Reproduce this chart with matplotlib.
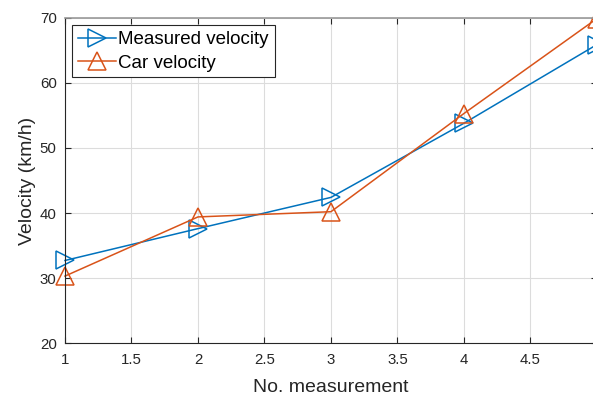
import matplotlib
matplotlib.use("Agg")
import matplotlib.pyplot as plt

plt.rcParams["font.family"] = ["Liberation Sans", "DejaVu Sans"]

# =========================
# DATA
# =========================

measurement = [1, 2, 3, 4, 5]
measured_velocity = [32.7, 37.6, 42.4, 53.8, 65.9]
car_velocity = [30.3, 39.4, 40.2, 55.3, 69.9]

x_ticks = [1, 1.5, 2, 2.5, 3, 3.5, 4, 4.5]
y_ticks = [20, 30, 40, 50, 60, 70]

BLUE = "#0072BD"
ORANGE = "#D95319"

fig = plt.figure(figsize=(5.93, 3.98), dpi=100)
ax = fig.add_axes([0.1096, 0.138, 0.897, 0.817])

ax.plot(
    measurement,
    measured_velocity,
    color=BLUE,
    marker=">",
    markersize=12.5,
    markerfacecolor="none",
    markeredgewidth=1.1,
    linewidth=1.1,
    label="Measured velocity",
    clip_on=False,
)

ax.plot(
    measurement,
    car_velocity,
    color=ORANGE,
    marker="^",
    markersize=12.5,
    markerfacecolor="none",
    markeredgewidth=1.1,
    linewidth=1.1,
    label="Car velocity",
    clip_on=False,
)

ax.set_xlim(1, 5)
ax.set_ylim(20, 70)
ax.set_xticks(x_ticks)
ax.set_xticklabels([f"{t:g}" for t in x_ticks])
ax.set_yticks(y_ticks)

ax.grid(True, color="#dcdcdc", linewidth=0.8)
ax.set_axisbelow(True)

ax.tick_params(
    direction="in",
    length=4,
    width=0.8,
    labelsize=10.8,
    colors="#262626",
    top=True,
    right=True,
)
ax.tick_params(axis="x", pad=7)
ax.tick_params(axis="y", pad=6)

for side in ["left", "bottom"]:
    ax.spines[side].set_color("#262626")
    ax.spines[side].set_linewidth(0.8)

for side in ["top", "right"]:
    ax.spines[side].set_color("#999999")
    ax.spines[side].set_linewidth(1.2)

ax.set_xlabel("No. measurement", fontsize=14, color="#262626", labelpad=8.5)
ax.set_ylabel("Velocity (km/h)", fontsize=14, color="#262626", labelpad=2.5)

leg = ax.legend(
    loc="upper left",
    fontsize=13.5,
    fancybox=False,
    framealpha=1,
    edgecolor="#262626",
    handlelength=2.0,
    handletextpad=0.15,
    borderpad=0.3,
    labelspacing=0.35,
    borderaxespad=0.4,
)
leg.get_frame().set_linewidth(0.8)

fig.savefig("out.png", dpi=100)
